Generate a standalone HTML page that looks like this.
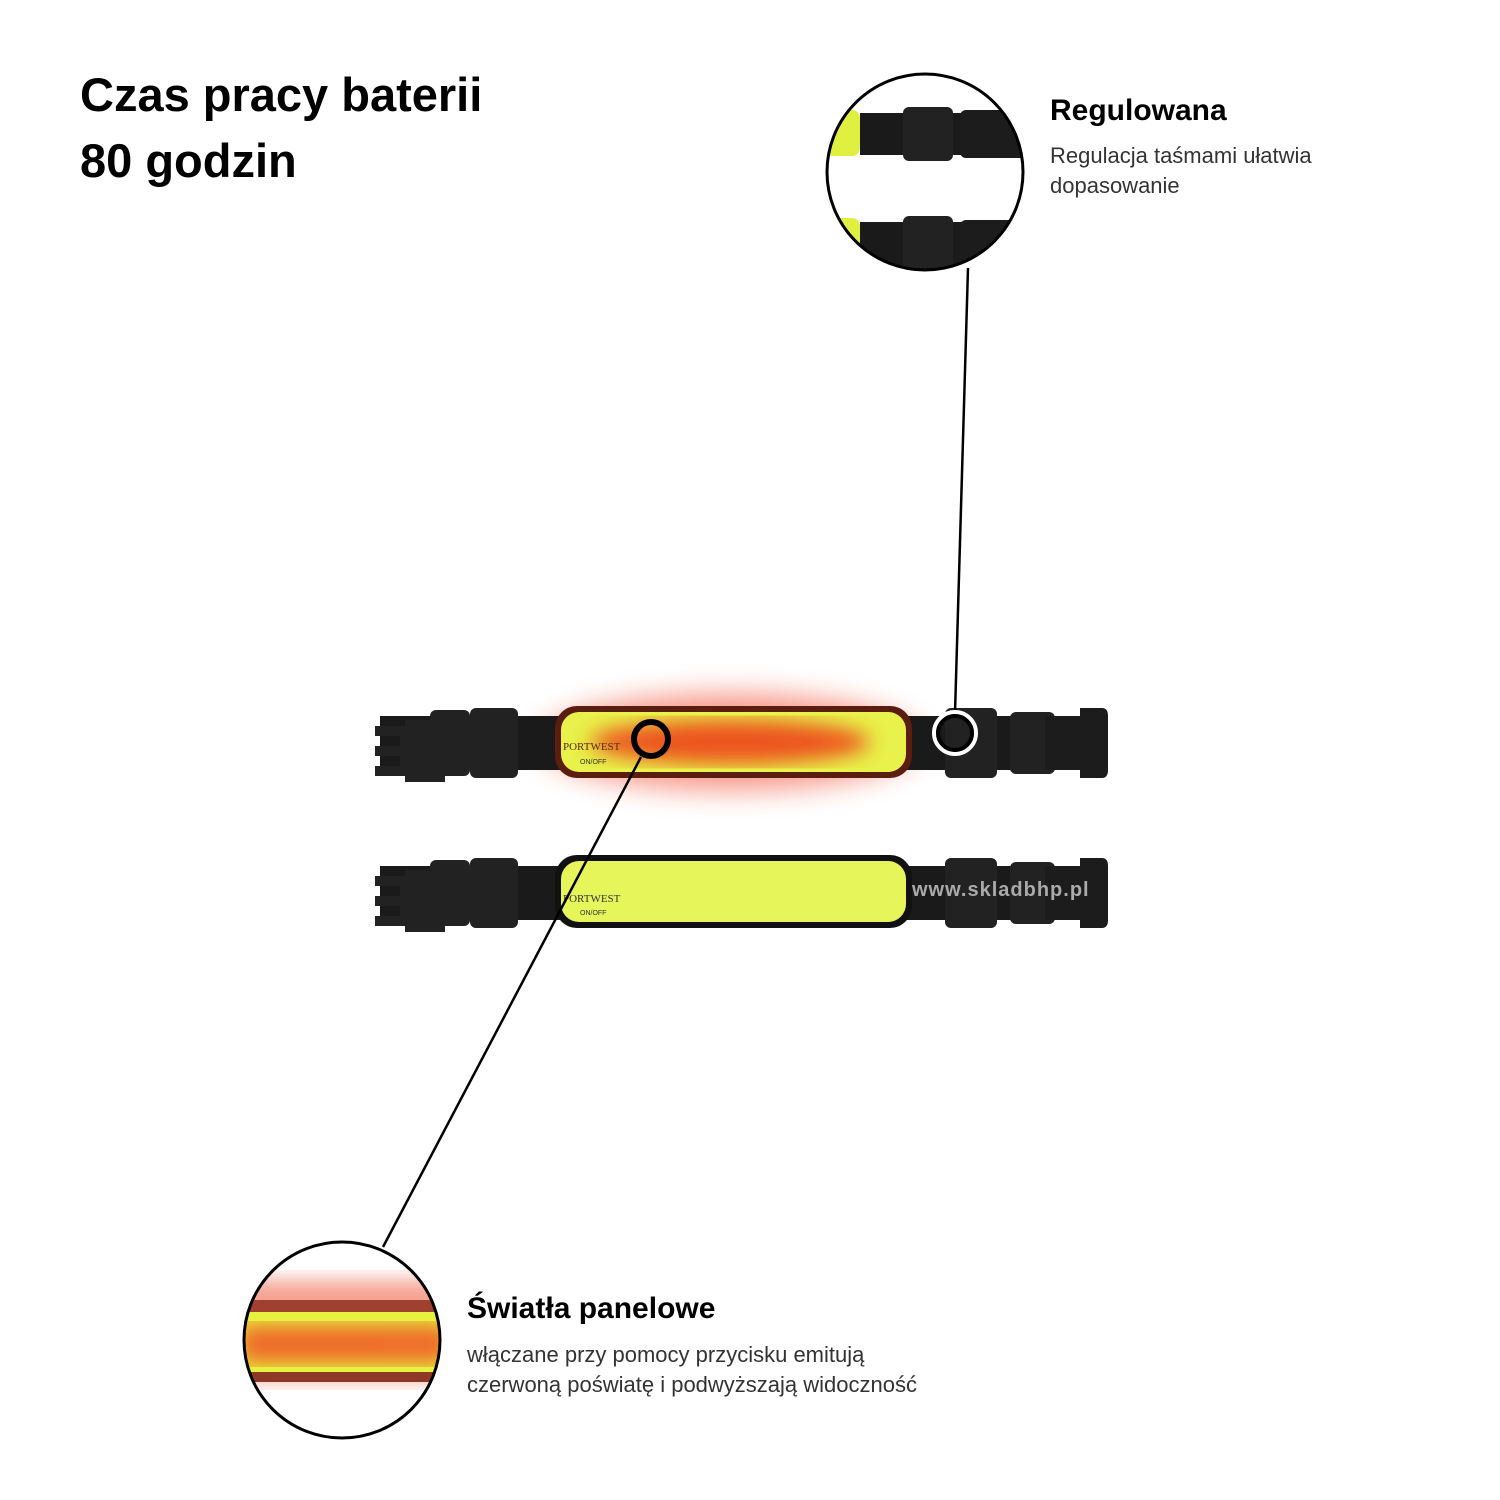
<!DOCTYPE html>
<html><head><meta charset="utf-8"><style>
body{margin:0;background:#fff;width:1500px;height:1500px;overflow:hidden;font-family:"Liberation Sans",sans-serif}
.t{position:absolute;color:#000}
</style></head><body>
<div class="t" style="left:80px;top:62px;font-size:47px;font-weight:bold;line-height:66px">Czas pracy baterii<br>80 godzin</div>
<div class="t" style="left:1050px;top:94px;font-size:30px;font-weight:bold">Regulowana</div>
<div class="t" style="left:1050px;top:141px;font-size:22px;line-height:30px;color:#333">Regulacja taśmami ułatwia<br>dopasowanie</div>
<div class="t" style="left:467px;top:1292px;font-size:30px;font-weight:bold">Światła panelowe</div>
<div class="t" style="left:467px;top:1340px;font-size:22px;line-height:30px;color:#333">włączane przy pomocy przycisku emitują<br>czerwoną poświatę i podwyższają widoczność</div>
<svg width="1500" height="1500" style="position:absolute;left:0;top:0">
<defs>
<filter id="b" x="-30%" y="-80%" width="160%" height="260%"><feGaussianBlur stdDeviation="14"/></filter>
<filter id="b2"><feGaussianBlur stdDeviation="10"/></filter>
<clipPath id="c1"><circle cx="925" cy="172" r="97"/></clipPath>
<clipPath id="c2"><circle cx="342" cy="1340" r="97"/></clipPath>
<g id="belt">
<rect x="380" y="0" width="700" height="54" fill="#1a1a1a"/>
<path d="M375 10h30v-6h40v62h-40v-6h-30v-10h25v-10h-25v-10h25v-10h-25z" fill="#222"/>
<rect x="430" y="-6" width="40" height="66" rx="6" fill="#222"/>
<rect x="470" y="-8" width="48" height="70" rx="6" fill="#222"/>
<rect x="945" y="-8" width="52" height="70" rx="6" fill="#222"/>
<rect x="1010" y="-4" width="45" height="62" rx="6" fill="#222"/>
<path d="M1045 0h35v-8h22q6 0 6 8v54q0 8-6 8h-22v-8h-35z" fill="#1c1c1c"/>
</g>
</defs>
<ellipse cx="730" cy="742" rx="190" ry="48" fill="#f04020" opacity=".55" filter="url(#b)"/>
<use href="#belt" y="716"/>
<rect x="555" y="706" width="357" height="72" rx="22" fill="#5a1d10"/>
<rect x="561" y="712" width="345" height="60" rx="18" fill="#e8f24a"/>
<ellipse cx="730" cy="742" rx="140" ry="22" fill="#ee3818" opacity=".85" filter="url(#b2)"/>
<text x="563" y="750" font-family="Liberation Serif" font-size="11" fill="#5a2a10">PORTWEST</text>
<text x="580" y="764" font-size="7" fill="#333">ON/OFF</text>
<use href="#belt" y="866"/>
<rect x="555" y="855" width="357" height="73" rx="22" fill="#111"/>
<rect x="561" y="861" width="345" height="61" rx="18" fill="#e6f55a"/>
<text x="563" y="902" font-family="Liberation Serif" font-size="11" fill="#333">PORTWEST</text>
<text x="580" y="915" font-size="7" fill="#333">ON/OFF</text>
<text x="912" y="896" font-size="20" font-weight="bold" fill="#aaa" letter-spacing="1">www.skladbhp.pl</text>
<g clip-path="url(#c1)">
<rect x="820" y="70" width="210" height="210" fill="#fff"/>
<rect x="820" y="110" width="40" height="46" rx="8" fill="#e0f040"/>
<rect x="860" y="113" width="170" height="42" fill="#1a1a1a"/>
<rect x="903" y="107" width="50" height="54" rx="6" fill="#222"/>
<rect x="960" y="110" width="70" height="48" rx="6" fill="#1c1c1c"/>
<rect x="820" y="218" width="40" height="50" rx="8" fill="#e0f040"/>
<rect x="860" y="222" width="170" height="46" fill="#1a1a1a"/>
<rect x="903" y="216" width="50" height="56" rx="6" fill="#222"/>
<rect x="960" y="220" width="70" height="50" rx="6" fill="#1c1c1c"/>
</g>
<circle cx="925" cy="172" r="98" fill="none" stroke="#000" stroke-width="3"/>
<line x1="968" y1="268" x2="955" y2="713" stroke="#000" stroke-width="2.5"/>
<circle cx="955" cy="733" r="21" fill="none" stroke="#fff" stroke-width="4"/>
<circle cx="955" cy="733" r="17" fill="none" stroke="#000" stroke-width="4"/>
<line x1="641" y1="757" x2="383" y2="1247" stroke="#000" stroke-width="2.5"/>
<circle cx="651" cy="739" r="17" fill="none" stroke="#000" stroke-width="6"/>
<g clip-path="url(#c2)">
<rect x="240" y="1240" width="210" height="210" fill="#fff"/>
<rect x="240" y="1280" width="210" height="100" fill="#f4a090" filter="url(#b2)"/>
<rect x="240" y="1300" width="210" height="12" fill="#a04030"/>
<rect x="240" y="1312" width="210" height="62" fill="#e8f040"/>
<rect x="240" y="1325" width="210" height="38" fill="#f04a20" opacity=".8" filter="url(#b2)"/>
<rect x="240" y="1372" width="210" height="10" fill="#903828"/>
</g>
<circle cx="342" cy="1340" r="98" fill="none" stroke="#000" stroke-width="3"/>
</svg>
</body></html>
